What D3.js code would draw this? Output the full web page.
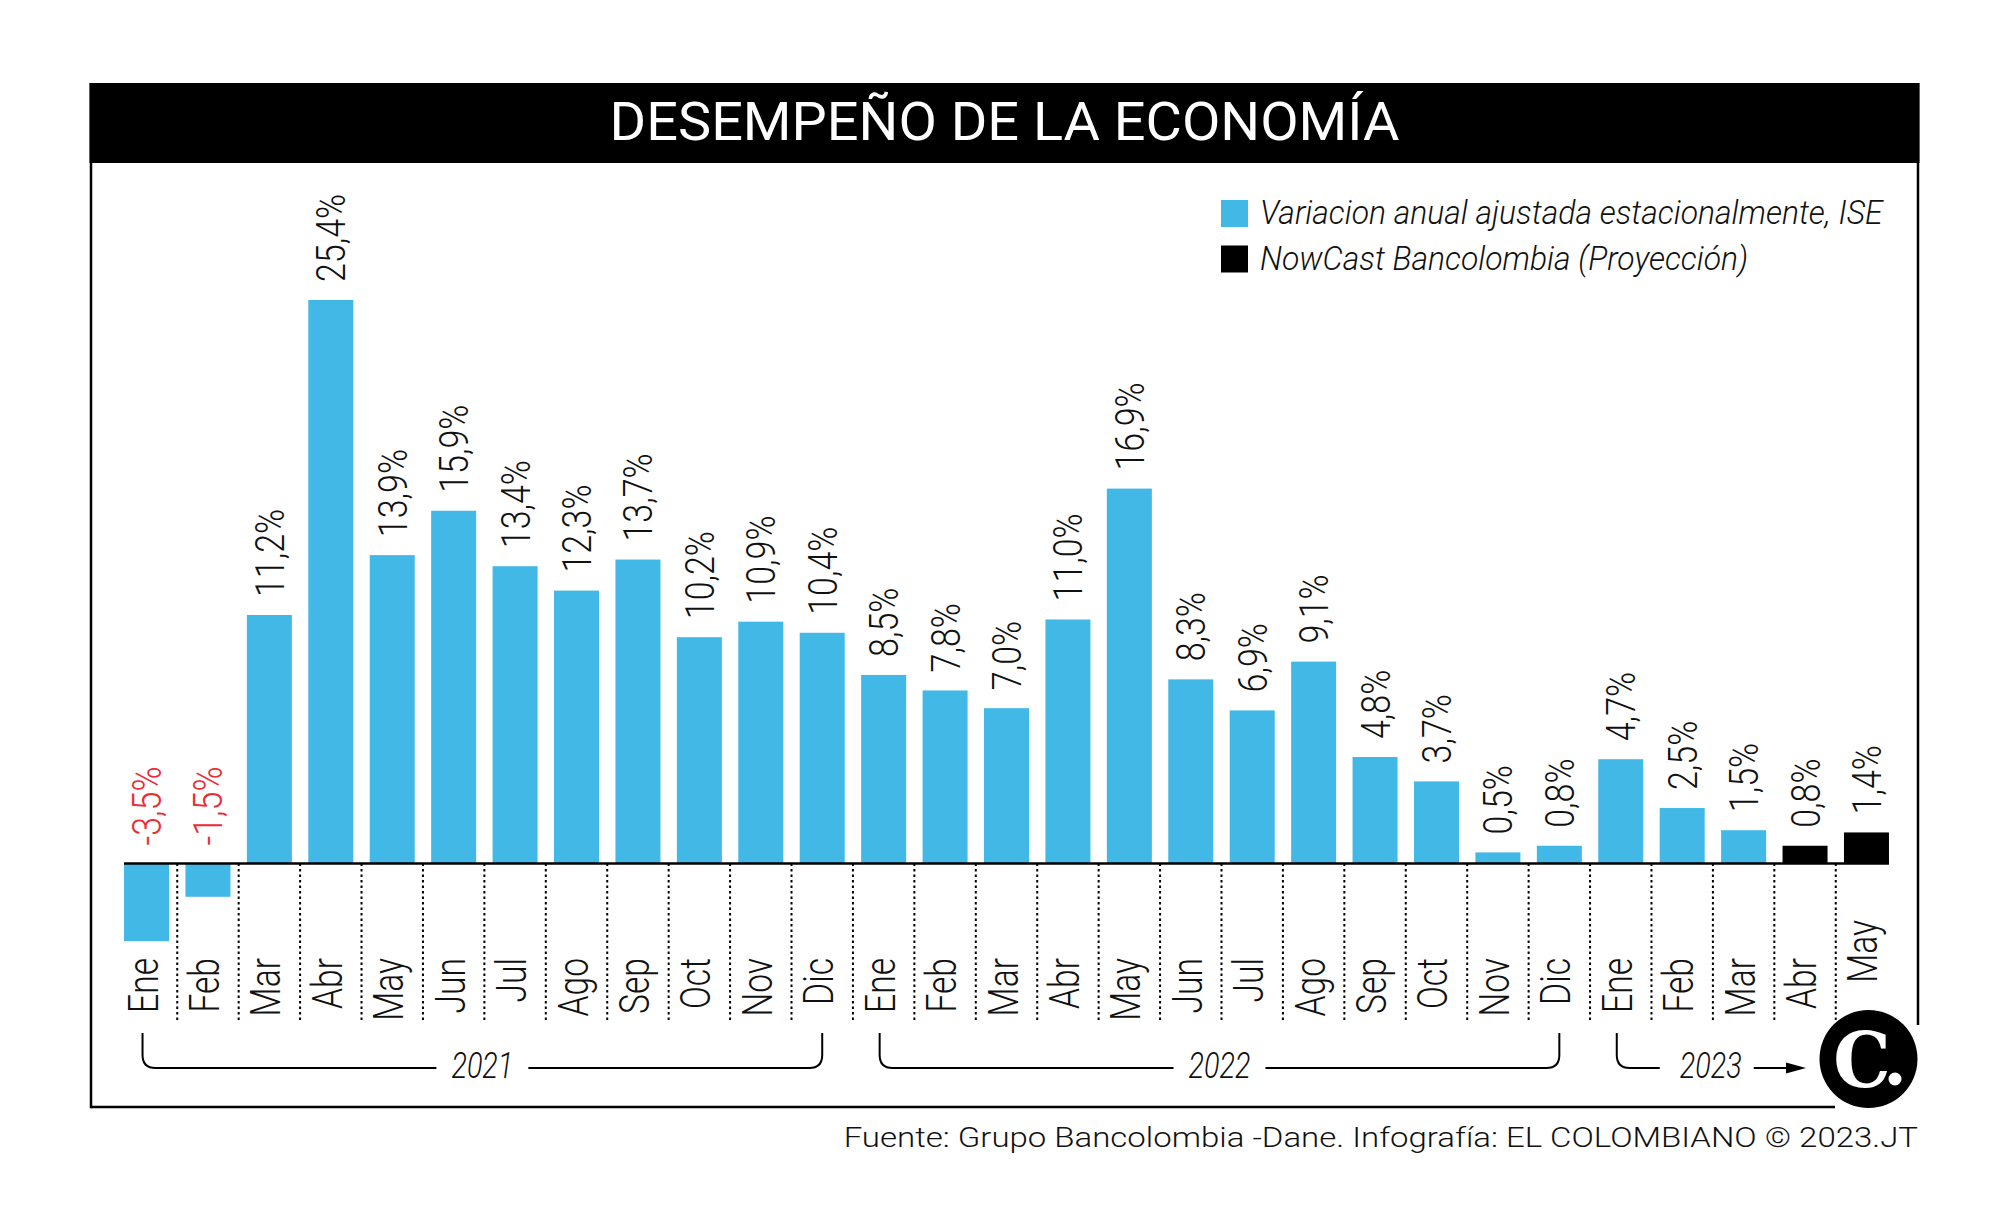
<!DOCTYPE html>
<html><head><meta charset="utf-8">
<script src="https://cdn.jsdelivr.net/npm/d3@7"></script>
<style>
body{margin:0;background:#fff}
svg{display:block}
text{font-family:Roboto,"Noto Sans",sans-serif}
</style>
</head><body>
<svg id="chart" width="2000" height="1220"></svg>
<script>
// ---------------- data ----------------
const title = "DESEMPEÑO DE LA ECONOMÍA";
const months = ["Ene","Feb","Mar","Abr","May","Jun","Jul","Ago","Sep","Oct","Nov","Dic",
                "Ene","Feb","Mar","Abr","May","Jun","Jul","Ago","Sep","Oct","Nov","Dic",
                "Ene","Feb","Mar","Abr","May"];
const iseValues = [-3.5,-1.5,11.2,25.4,13.9,15.9,13.4,12.3,13.7,10.2,10.9,10.4,
                   8.5,7.8,7.0,11.0,16.9,8.3,6.9,9.1,4.8,3.7,0.5,0.8,
                   4.7,2.5,1.5,null,null];
const nowcastValues = [null,null,null,null,null,null,null,null,null,null,null,null,
                       null,null,null,null,null,null,null,null,null,null,null,null,
                       null,null,null,0.8,1.4];
const years = ["2021","2022","2023"];
const yearFirst = [0,12,24];
const yearLast = [11,23,28];
const legendLabels = ["Variacion anual ajustada estacionalmente, ISE","NowCast Bancolombia (Proyección)"];
const source = "Fuente: Grupo Bancolombia -Dane. Infografía: EL COLOMBIANO © 2023.JT";

// ---------------- build ----------------
const BLUE = "#41b8e6", BLACK = "#000", RED = "#ee2a35";
const series = months.map((m,i)=>{
  const proj = nowcastValues[i] != null;
  return {i, month:m, value: proj ? nowcastValues[i] : iseValues[i], proj};
});

const svg = d3.select("#chart");

const frameL = 91, frameR = 1918, frameT = 83, frameB = 1107;
const x = d3.scaleBand().domain(d3.range(series.length))
  .range([115.8, 1897.2]).paddingInner(0.2675).paddingOuter(0.134);
const y = d3.scaleLinear().domain([0, d3.max(series, d=>d.value)]).range([863.5, 300]);
const y0 = y(0);
const cx = i => x(i) + x.bandwidth()/2;

// frame
svg.append("rect").attr("x",frameL-1.5).attr("y",frameT).attr("width",frameR-frameL+3).attr("height",80).attr("fill","#000");
svg.append("line").attr("x1",frameL).attr("x2",frameL).attr("y1",frameT).attr("y2",frameB+1.2).attr("stroke","#000").attr("stroke-width",2.5);
svg.append("line").attr("x1",frameR).attr("x2",frameR).attr("y1",frameT).attr("y2",1025).attr("stroke","#000").attr("stroke-width",2.5);
svg.append("line").attr("x1",frameL).attr("x2",1835).attr("y1",frameB).attr("y2",frameB).attr("stroke","#000").attr("stroke-width",2.5);

function fit(sel, target){
  const w = sel.node().getComputedTextLength();
  return w>0 ? target/w : 1;
}

// title
const tt = svg.append("text").text(title).attr("fill","#fff")
  .attr("font-size",54).attr("font-weight",400).attr("text-anchor","middle");
const ts = fit(tt, 790);
tt.attr("transform",`translate(${(frameL+frameR)/2},140) scale(${ts},1)`);

// separators (dotted)
svg.append("g").selectAll("line").data(d3.range(1,series.length)).join("line")
  .attr("x1",i=>x(i)-(x.step()-x.bandwidth())/2)
  .attr("x2",i=>x(i)-(x.step()-x.bandwidth())/2)
  .attr("y1",y0).attr("y2",1020)
  .attr("stroke","#000").attr("stroke-width",2).attr("stroke-dasharray","2.5,3");

// bars
svg.append("g").selectAll("rect").data(series).join("rect")
  .attr("x",d=>x(d.i)).attr("width",x.bandwidth())
  .attr("y",d=>Math.min(y(d.value),y0)).attr("height",d=>Math.abs(y(d.value)-y0))
  .attr("fill",d=>d.proj?BLACK:BLUE);

// baseline
svg.append("line").attr("x1",x(0)).attr("x2",x(series.length-1)+x.bandwidth())
  .attr("y1",y0).attr("y2",y0).attr("stroke","#000").attr("stroke-width",2.5);

// value labels
const fmt = v => (v<0?"-":"") + Math.abs(v).toFixed(1).replace(".",",") + "%";
svg.append("g").selectAll("text").data(series).join("text")
  .text(d=>fmt(d.value))
  .attr("font-size",40).attr("font-weight",300)
  .attr("fill",d=>d.value<0?RED:"#111")
  .attr("text-anchor","start")
  .attr("transform",d=>`translate(${cx(d.i)+14.5},${Math.min(y(d.value),y0)-18}) rotate(-90) scale(0.85,1)`);

// month labels
svg.append("g").selectAll("text").data(series).join("text")
  .text(d=>d.month)
  .attr("font-size",42).attr("font-weight",300).attr("fill","#111")
  .attr("text-anchor","end")
  .attr("transform",d=>`translate(${cx(d.i)+11},${d.i===series.length-1?920:958}) rotate(-90) scale(0.8,1)`);

// year brackets
const lineY = 1068, topY = 1033, r = 13;
years.forEach((yr,k)=>{
  const xl = cx(yearFirst[k]) - 4;
  const last = k === years.length-1;
  const g = svg.append("g");
  if(!last){
    const xr = cx(yearLast[k]);
    const mid = (xl+xr)/2;
    const t = g.append("text").text(yr).attr("font-size",36).attr("font-weight",300)
      .attr("font-style","italic").attr("text-anchor","middle").attr("fill","#111")
      .attr("transform",`translate(${mid},1078) scale(0.8,1)`);
    const hw = t.node().getComputedTextLength()*0.8/2 + 15;
    g.append("path").attr("fill","none").attr("stroke","#000").attr("stroke-width",2)
      .attr("d",`M${xl},${topY}V${lineY-r}Q${xl},${lineY} ${xl+r},${lineY}H${mid-hw}`);
    g.append("path").attr("fill","none").attr("stroke","#000").attr("stroke-width",2)
      .attr("d",`M${mid+hw},${lineY}H${xr-r}Q${xr},${lineY} ${xr},${lineY-r}V${topY}`);
  } else {
    const lineEnd = xl + 43;
    const tx = lineEnd + 20;
    const t = g.append("text").text(yr).attr("font-size",36).attr("font-weight",300)
      .attr("font-style","italic").attr("text-anchor","start").attr("fill","#111")
      .attr("transform",`translate(${tx},1078) scale(0.8,1)`);
    const tw = t.node().getComputedTextLength()*0.8;
    g.append("path").attr("fill","none").attr("stroke","#000").attr("stroke-width",2)
      .attr("d",`M${xl},${topY}V${lineY-r}Q${xl},${lineY} ${xl+r},${lineY}H${lineEnd}`);
    const a0 = tx + tw + 12, a1 = 1806;
    g.append("line").attr("x1",a0).attr("x2",a1-18).attr("y1",lineY).attr("y2",lineY)
      .attr("stroke","#000").attr("stroke-width",2);
    g.append("path").attr("d",`M${a1-20},${lineY-5.5}L${a1},${lineY}L${a1-20},${lineY+5.5}Z`).attr("fill","#000");
  }
});

// legend
const lg = svg.append("g");
const legendColors = [BLUE, BLACK];
let legendScale = 1;
legendLabels.forEach((lab,k)=>{
  const yy = 200 + k*45.5;
  lg.append("rect").attr("x",1221).attr("y",yy).attr("width",27).attr("height",27).attr("fill",legendColors[k]);
  const t = lg.append("text").text(lab).attr("font-size",34).attr("font-weight",300)
    .attr("font-style","italic").attr("fill","#111");
  if(k===0) legendScale = fit(t, 623);
  t.attr("transform",`translate(1260,${yy+24}) scale(${legendScale},1)`);
});

// logo
svg.append("circle").attr("cx",1868.5).attr("cy",1059).attr("r",49).attr("fill","#000");
svg.append("text").text("C")
  .style("font-family","'DejaVu Serif','Liberation Serif',serif")
  .style("font-weight","900").attr("font-size",76).attr("fill","#fff").attr("text-anchor","middle")
  .attr("transform","translate(1862,1087) scale(0.95,1)");
svg.append("circle").attr("cx",1895).attr("cy",1079).attr("r",6.5).attr("fill","#fff");

// source
const st = svg.append("text").text(source).attr("font-size",28).attr("font-weight",300)
  .attr("fill","#111").attr("text-anchor","end");
const ss = fit(st, 1075);
st.attr("transform",`translate(1918,1147) scale(${ss},1)`);
</script>
</body></html>
